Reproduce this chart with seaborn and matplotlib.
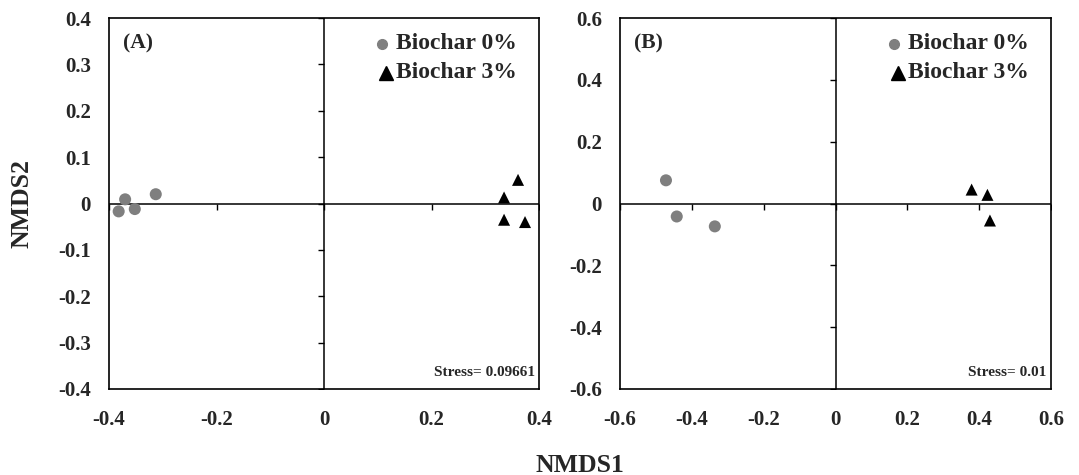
import numpy as np
import pandas as pd
import matplotlib
matplotlib.use("Agg")
import matplotlib.pyplot as plt
import seaborn as sns

# ---- data ----
a_b0_x = [-0.382, -0.370, -0.352, -0.313]
a_b0_y = [-0.017, 0.009, -0.012, 0.020]
a_b3_x = [0.361, 0.335, 0.335, 0.374]
a_b3_y = [0.051, 0.013, -0.035, -0.040]

b_b0_x = [-0.472, -0.442, -0.336]
b_b0_y = [0.075, -0.042, -0.074]
b_b3_x = [0.379, 0.423, 0.430]
b_b3_y = [0.045, 0.028, -0.055]

groups = ["Biochar 0%", "Biochar 3%"]
a_ticks = [-0.4, -0.3, -0.2, -0.1, 0, 0.1, 0.2, 0.3, 0.4]
a_xticks = [-0.4, -0.2, 0, 0.2, 0.4]
b_ticks = [-0.6, -0.4, -0.2, 0, 0.2, 0.4, 0.6]
stress_a = "Stress= 0.09661"
stress_b = "Stress= 0.01"

def fmt(v):
    if abs(v) < 1e-9:
        return "0"
    return f"{v:.1f}"

sns.set_style("white")
plt.rcParams['font.family'] = ['Liberation Serif', 'DejaVu Serif']
plt.rcParams['font.weight'] = 'bold'

fig = plt.figure(figsize=(10.79, 4.75), dpi=100)
axA = fig.add_axes([109/1079, 1-389/475, 430/1079, 371/475])
axB = fig.add_axes([620/1079, 1-389/475, 431/1079, 371/475])

palette = {groups[0]: "#7f7f7f", groups[1]: "#000000"}
markers = {groups[0]: "o", groups[1]: "^"}

def panel(ax, x0, y0, x3, y3, xticks, yticks, lim, tag, stress):
    df = pd.DataFrame({
        "x": list(x0) + list(x3),
        "y": list(y0) + list(y3),
        "g": [groups[0]] * len(x0) + [groups[1]] * len(x3),
    })
    ax.axhline(0, color="black", lw=1.1, zorder=1)
    ax.axvline(0, color="black", lw=1.1, zorder=1)
    # tick marks on zero-crossing axes
    ax.plot(np.zeros(len(yticks)), yticks, linestyle="none", marker=0,
            markersize=4, color="black", mew=1.0, zorder=1)
    ax.plot(xticks, np.zeros(len(xticks)), linestyle="none", marker=3,
            markersize=4, color="black", mew=1.0, zorder=1)
    sns.scatterplot(data=df, x="x", y="y", hue="g", style="g",
                    palette=palette, markers=markers, s=75,
                    edgecolor="none", linewidth=0, ax=ax, legend=False, zorder=3)
    ax.set_xlim(-lim, lim)
    ax.set_ylim(-lim, lim)
    ax.set_xticks(xticks)
    ax.set_yticks(yticks)
    ax.set_xticklabels([fmt(v) for v in xticks], fontsize=15, fontweight="bold")
    ax.set_yticklabels([fmt(v) for v in yticks], fontsize=15, fontweight="bold")
    ax.tick_params(axis="both", length=0)
    ax.tick_params(axis="y", pad=13)
    ax.tick_params(axis="x", pad=15)
    ax.set_xlabel("")
    ax.set_ylabel("")
    for sp in ax.spines.values():
        sp.set_visible(True)
        sp.set_color("black")
        sp.set_linewidth(1.2)
    ax.text(0.033, 0.93, tag, transform=ax.transAxes, fontsize=15.5,
            fontweight="bold", ha="left", va="center")
    ax.text(0.99, 0.045, stress, transform=ax.transAxes, fontsize=11,
            fontweight="bold", ha="right", va="center")
    # legend
    ax.plot([0.635], [0.93], transform=ax.transAxes, marker="o", color="#7f7f7f",
            markersize=7, linestyle="none", clip_on=False)
    ax.plot([0.645], [0.852], transform=ax.transAxes, marker="^", color="black",
            markersize=10, linestyle="none", clip_on=False)
    ax.text(0.668, 0.93, groups[0], transform=ax.transAxes, fontsize=17,
            fontweight="bold", ha="left", va="center")
    ax.text(0.668, 0.852, groups[1], transform=ax.transAxes, fontsize=17,
            fontweight="bold", ha="left", va="center")

panel(axA, a_b0_x, a_b0_y, a_b3_x, a_b3_y, a_xticks, a_ticks, 0.4, "(A)", stress_a)
panel(axB, b_b0_x, b_b0_y, b_b3_x, b_b3_y, b_ticks, b_ticks, 0.6, "(B)", stress_b)

fig.text(22/1079, 1-203/475, "NMDS2", rotation=90, fontsize=18.5,
         fontweight="bold", ha="center", va="center")
fig.text(580/1079, 1-465/475, "NMDS1", fontsize=18.5,
         fontweight="bold", ha="center", va="center")

fig.savefig("out.png", dpi=100)
